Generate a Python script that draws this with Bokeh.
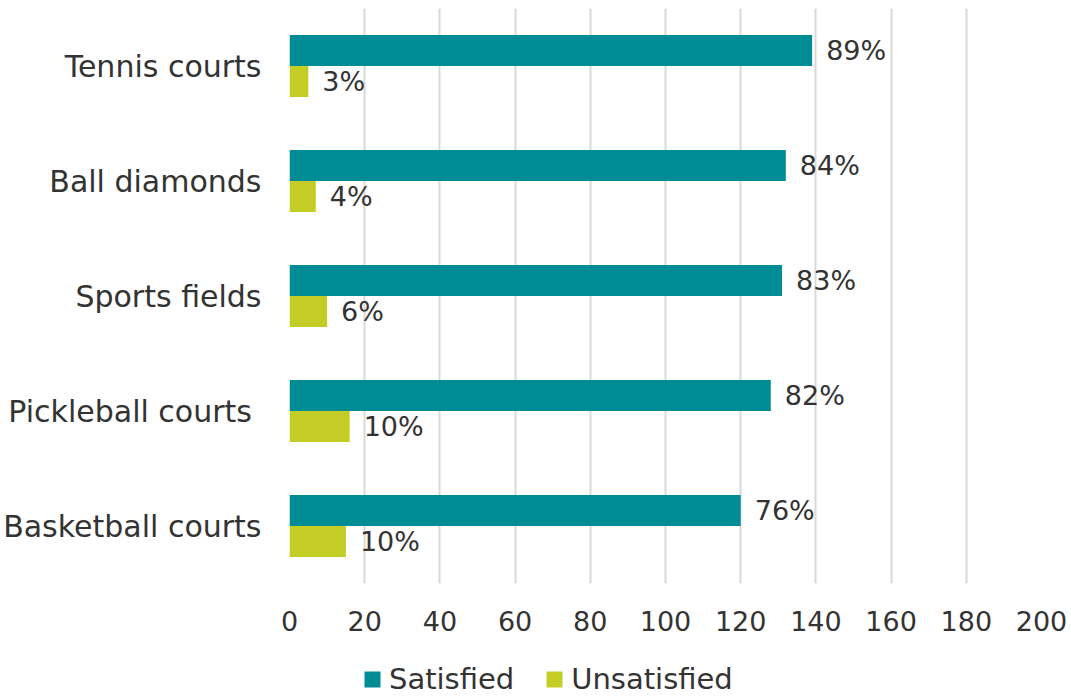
from bokeh.plotting import figure
from bokeh.layouts import column
from bokeh.models import ColumnDataSource, FactorRange, Range1d, FixedTicker, Legend, LegendItem
from bokeh.transform import dodge
from bokeh.embed import file_html
from bokeh.resources import INLINE
from bokeh.core.properties import value

# ---- data ----
categories = ["Tennis courts", "Ball diamonds", "Sports fields", "Pickleball courts ", "Basketball courts"]
satisfied = [139, 132, 131, 128, 120]
unsatisfied = [5, 7, 10, 16, 15]
satisfied_pct = ["89%", "84%", "83%", "82%", "76%"]
unsatisfied_pct = ["3%", "4%", "6%", "10%", "10%"]
x_ticks = [0, 20, 40, 60, 80, 100, 120, 140, 160, 180, 200]
series_names = ["Satisfied", "Unsatisfied"]

FONT = "DejaVu Sans"
TEXT = "#333333"
TEAL = "#008C95"
LIME = "#C3CD25"

src = ColumnDataSource(dict(cat=categories, sat=satisfied, uns=unsatisfied,
                            sp=satisfied_pct, up=unsatisfied_pct))

p = figure(y_range=FactorRange(factors=categories[::-1], range_padding=0),
           x_range=Range1d(0, 200),
           frame_width=752, frame_height=575,
           min_border_left=289, min_border_right=30,
           min_border_top=8, min_border_bottom=70,
           output_backend="svg", toolbar_location=None)

OFF = 0.135
H = 0.27
p.hbar(y=dodge('cat', OFF, range=p.y_range), left=0, right='sat', height=H,
       fill_color=TEAL, line_color=None, source=src)
p.hbar(y=dodge('cat', -OFF, range=p.y_range), left=0, right='uns', height=H,
       fill_color=LIME, line_color=None, source=src)

p.text(x='sat', y=dodge('cat', OFF, range=p.y_range), text='sp', x_offset=14,
       text_baseline='middle', text_align='left', text_font=value(FONT),
       text_font_size="27px", text_color=TEXT, source=src)
p.text(x='uns', y=dodge('cat', -OFF, range=p.y_range), text='up', x_offset=14,
       text_baseline='middle', text_align='left', text_font=value(FONT),
       text_font_size="27px", text_color=TEXT, source=src)

p.ygrid.visible = False
p.xgrid.ticker = FixedTicker(ticks=x_ticks)
p.xgrid.grid_line_color = "#d9d9d9"
p.xgrid.grid_line_width = 2

p.xaxis.ticker = FixedTicker(ticks=x_ticks)
for ax in (p.xaxis, p.yaxis):
    ax.axis_line_color = None
    ax.major_tick_line_color = None
    ax.minor_tick_line_color = None
    ax.major_tick_out = 0
    ax.major_tick_in = 0
    ax.major_label_text_font = FONT
    ax.major_label_text_color = TEXT
p.xaxis.major_label_text_font_size = "27px"
p.yaxis.major_label_text_font_size = "30px"
p.xaxis.major_label_standoff = 27
p.yaxis.major_label_standoff = 28
p.outline_line_color = None

# ---- legend strip ----
lg = figure(x_range=Range1d(0, 1), y_range=Range1d(0, 1),
            frame_width=1071, frame_height=43,
            min_border_left=0, min_border_right=0, min_border_top=0, min_border_bottom=0,
            x_axis_type=None, y_axis_type=None,
            output_backend="svg", toolbar_location=None)
lg.grid.visible = False
lg.outline_line_color = None
# legend-only proxies, positioned outside the visible range
proxy = ColumnDataSource(dict(y=[-5], left=[-5], right=[-4]))
d1 = lg.hbar(y='y', left='left', right='right', height=1, fill_color=TEAL, line_color=None, source=proxy)
d2 = lg.hbar(y='y', left='left', right='right', height=1, fill_color=LIME, line_color=None, source=proxy)
legend = Legend(items=[LegendItem(label=series_names[0], renderers=[d1]),
                       LegendItem(label=series_names[1], renderers=[d2])],
                orientation="horizontal", location=(362, 0),
                label_text_font=FONT, label_text_font_size="29px", label_text_color=TEXT,
                glyph_width=20, glyph_height=20, label_standoff=7, spacing=30,
                padding=0, margin=0, border_line_color=None, background_fill_alpha=0)
lg.add_layout(legend)

layout = column(p, lg, spacing=0)
open("out.html", "w").write(file_html(layout, INLINE))
